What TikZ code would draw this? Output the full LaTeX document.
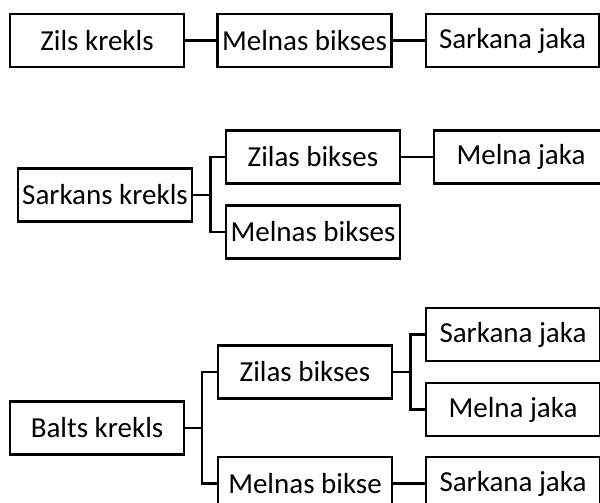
\documentclass[tikz,border=0pt]{standalone}
\usepackage{fontspec}
\setmainfont{Carlito}
\begin{document}
\begin{tikzpicture}[x=1pt,y=-1pt,
  item/.style={draw, line width=2.5pt, minimum width=174pt, minimum height=53pt,
    inner sep=0pt, font=\fontsize{29}{34}\selectfont},
  link/.style={line width=2.5pt}]
\useasboundingbox (0,0) rectangle (600,503);
\clip (0,0) rectangle (600,503);
% zils krekls
\node[item] (krekls1) at (97,40.5) {Zils krekls};
\node[item] (bikses1) at (304.5,40.5) {Melnas bikses};
\node[item, minimum width=173pt] (jaka1) at (512.5,40.5) {Sarkana jaka};
\draw[link] (krekls1) -- (bikses1);
\draw[link] (bikses1) -- (jaka1);
% sarkans krekls
\node[item] (krekls2) at (105,195) {Sarkans krekls};
\node[item] (bikses2) at (313,157) {Zilas bikses};
\node[item] (bikses3) at (313,232) {Melnas bikses};
\node[item] (jaka2) at (521,157) {Melna jaka};
\draw[link] (krekls2.east) -- ++(17,0) |- (bikses2.west);
\draw[link] (krekls2.east) -- ++(17,0) |- (bikses3.west);
\draw[link] (bikses2) -- (jaka2);
% balts krekls
\node[item] (krekls3) at (97,428) {Balts krekls};
\node[item] (bikses4) at (305,372) {Zilas bikses};
\node[item] (bikses5) at (305,483.5) {Melnas bikse};
\node[item] (jaka3) at (513,334.5) {Sarkana jaka};
\node[item] (jaka4) at (513,409.5) {Melna jaka};
\node[item] (jaka5) at (513,483.5) {Sarkana jaka};
\draw[link] (krekls3.east) -- ++(16.5,0) |- (bikses4.west);
\draw[link] (krekls3.east) -- ++(16.5,0) |- (bikses5.west);
\draw[link] (bikses4.east) -- ++(17,0) |- (jaka3.west);
\draw[link] (bikses4.east) -- ++(17,0) |- (jaka4.west);
\draw[link] (bikses5) -- (jaka5);
\end{tikzpicture}
\end{document}
